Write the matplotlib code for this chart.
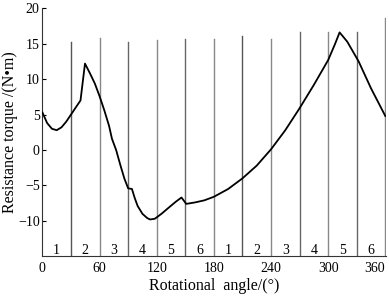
import numpy as np
import matplotlib
matplotlib.use("Agg")
import matplotlib.pyplot as plt

plt.rcParams["font.family"] = ["Liberation Serif", "DejaVu Serif"]

# curve
angle = [0, 5, 10, 15, 20, 25, 30, 35, 40, 44.7, 50, 55, 60, 65, 70, 73, 77.4,
         82, 86, 90, 94, 97, 100, 105, 110, 113, 118, 125, 132, 140, 146, 151,
         160, 170, 180, 195, 210, 225, 240, 255, 270, 285, 300, 307, 312, 320,
         332, 345, 360]
torque = [5.3, 3.8, 3.0, 2.8, 3.2, 4.0, 5.0, 6.0, 7.0, 12.2, 10.8, 9.4, 7.6,
          5.6, 3.4, 1.6, 0.0, -2.2, -4.0, -5.4, -5.5, -6.8, -7.9, -9.0, -9.6,
          -9.8, -9.7, -9.0, -8.2, -7.3, -6.7, -7.6, -7.4, -7.1, -6.6, -5.5,
          -4.0, -2.2, 0.1, 2.8, 5.9, 9.2, 12.7, 14.9, 16.6, 15.3, 12.5, 8.7,
          4.8]

# divider lines every 30 deg and their top ends
div_x = [30, 60, 90, 120, 150, 180, 210, 240, 270, 300, 330, 360]
div_top = [15.3, 15.8, 15.3, 15.5, 15.7, 15.7, 16.1, 15.7, 16.6, 16.6, 16.6, 18.6]
div_col = ["#555555", "#888888", "#666666", "#888888", "#666666", "#888888",
           "#555555", "#888888", "#666666", "#888888", "#666666", "#888888"]

seg_x = [15, 45, 75, 105, 135, 165, 195, 225, 255, 285, 315, 345]
seg_lab = ["1", "2", "3", "4", "5", "6", "1", "2", "3", "4", "5", "6"]

xticks = [0, 60, 120, 180, 240, 300, 360]
yticks = [-10, -5, 0, 5, 10, 15, 20]

fig = plt.figure(figsize=(3.89, 2.97), dpi=100)
ax = fig.add_axes([0.109, 0.137, 0.884, 0.835])

for x, top, c in zip(div_x, div_top, div_col):
    ax.plot([x, x], [-15, top], color=c, lw=1.0, zorder=1)

ax.plot(angle, torque, color="black", lw=1.3, zorder=3)

for x, s in zip(seg_x, seg_lab):
    ax.text(x, -14.2, s, ha="center", va="center", fontsize=10)

ax.set_xlim(0, 361)
ax.set_ylim(-15, 20)
ax.set_xticks(xticks)
ax.set_yticks(yticks)
ax.set_yticklabels(["\u221210", "\u22125", "0", "5", "10", "15", "20"])
ax.tick_params(axis="both", direction="in", length=3, labelsize=10, pad=2)
ax.tick_params(axis="x", length=0, pad=4)
ax.get_xticklabels()[-1].set_horizontalalignment("right")
for s in ["top", "right"]:
    ax.spines[s].set_visible(False)
ax.spines["left"].set_color("#333333")
ax.spines["bottom"].set_color("#333333")

ax.set_xlabel("Rotational  angle/(\u00b0)", fontsize=11.5, labelpad=2)
ax.set_ylabel("Resistance torque /(N\u2022m)", fontsize=11.5, labelpad=0)

fig.savefig("out.png", dpi=100)
